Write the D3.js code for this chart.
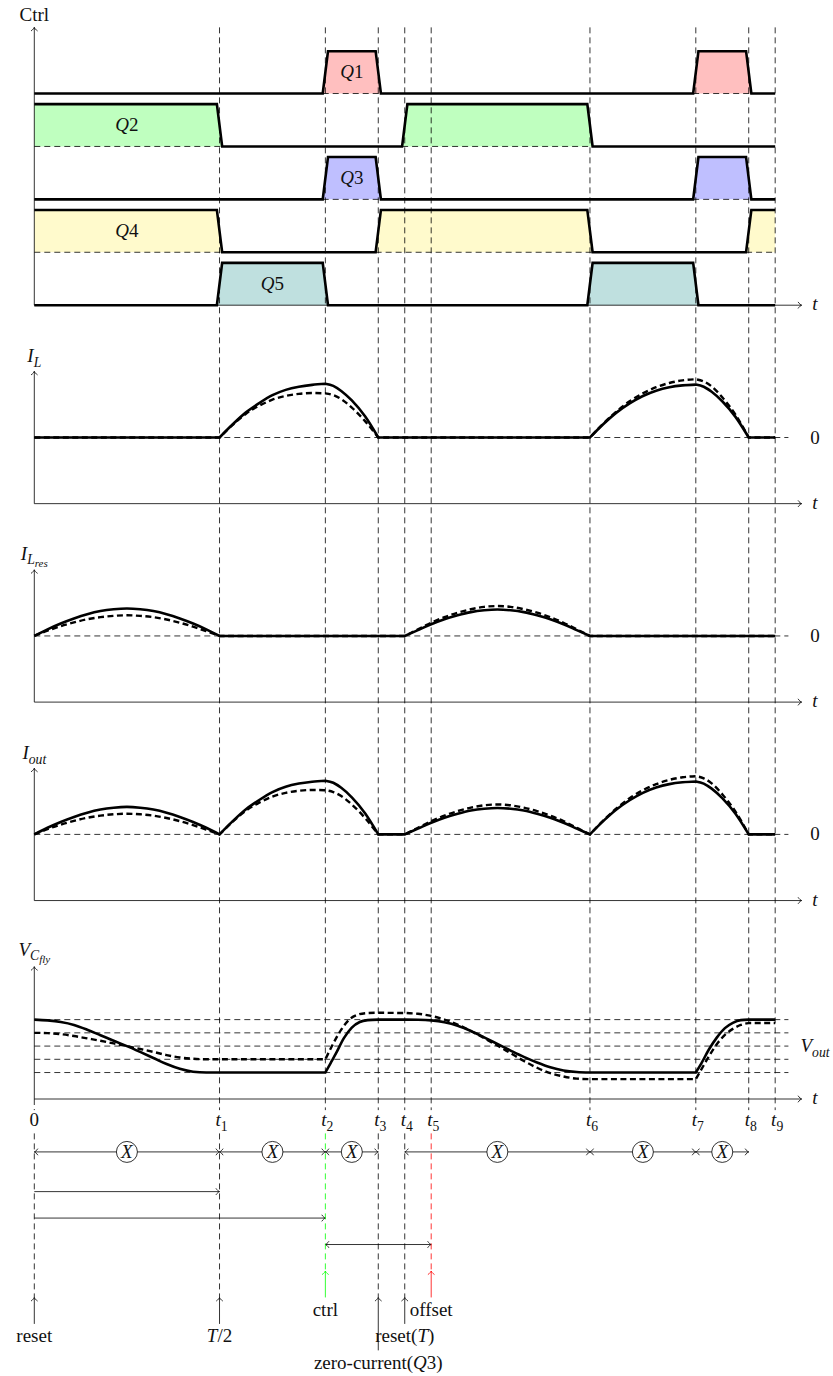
<!DOCTYPE html>
<html>
<head>
<meta charset="utf-8">
<script src="https://cdn.jsdelivr.net/npm/d3@7"></script>
<style>
  body { margin: 0; background: #fff; }
</style>
</head>
<body>
<svg id="chart" width="833" height="1376"></svg>
<script>
// ---------- data ----------
// event instants along the time axis (drawing units)
const tickTimes = [0, 7, 11, 13, 14, 15, 21, 25, 27, 28];
const tickNames = ["0", "1", "2", "3", "4", "5", "6", "7", "8", "9"];

// switch states: [time, on(1)/off(0)]
const q1States = [[0, 0], [11, 1], [13, 0], [25, 1], [27, 0]];
const q2States = [[0, 1], [7, 0], [14, 1], [21, 0]];
const q3States = [[0, 0], [11, 1], [13, 0], [25, 1], [27, 0]];
const q4States = [[0, 1], [7, 0], [13, 1], [21, 0], [27, 1]];
const q5States = [[0, 0], [7, 1], [11, 0], [21, 1], [25, 0]];
const switchNames = ["1", "2", "3", "4", "5"];

// inductor current I_L (segments of [t, value])
const iLSolid = [
  [[0, 0], [7, 0]],
  [[7, 0], [7.5, 0.5], [8, 0.95], [8.5, 1.3], [9, 1.6], [9.5, 1.8], [10, 1.92], [10.5, 1.99], [11, 2.03]],
  [[11, 2.03], [11.3, 1.95], [11.6, 1.76], [12, 1.4], [12.5, 0.8], [13, 0]],
  [[13, 0], [21, 0]],
  [[21, 0], [21.5, 0.5], [22, 0.94], [22.5, 1.29], [23, 1.57], [23.5, 1.77], [24, 1.9], [24.5, 1.97], [25, 2.0]],
  [[25, 2.0], [25.3, 1.92], [25.6, 1.73], [26, 1.37], [26.5, 0.78], [27, 0]],
  [[27, 0], [28, 0]]
];
const iLDashed = [
  [[0, 0], [7, 0]],
  [[7, 0], [7.5, 0.48], [8, 0.9], [8.5, 1.2], [9, 1.43], [9.5, 1.57], [10, 1.65], [10.5, 1.68], [11, 1.67]],
  [[11, 1.67], [11.3, 1.6], [11.6, 1.45], [12, 1.13], [12.5, 0.62], [13, 0]],
  [[13, 0], [21, 0]],
  [[21, 0], [21.5, 0.52], [22, 0.98], [22.5, 1.37], [23, 1.67], [23.5, 1.9], [24, 2.06], [24.5, 2.16], [25, 2.2]],
  [[25, 2.2], [25.3, 2.12], [25.6, 1.93], [26, 1.52], [26.5, 0.86], [27, 0]],
  [[27, 0], [28, 0]]
];

// resonant inductor current I_Lres
const iLresSolid = [
  [[0, 0], [0.5, 0.25], [1, 0.47], [1.5, 0.66], [2, 0.82], [2.5, 0.94], [3, 1.01], [3.5, 1.04], [4, 1.01], [4.5, 0.94], [5, 0.82], [5.5, 0.66], [6, 0.47], [6.5, 0.25], [7, 0]],
  [[7, 0], [14, 0]],
  [[14, 0], [14.5, 0.22], [15, 0.44], [15.5, 0.63], [16, 0.78], [16.5, 0.9], [17, 0.97], [17.5, 1.0], [18, 0.97], [18.5, 0.9], [19, 0.78], [19.5, 0.63], [20, 0.44], [20.5, 0.22], [21, 0]],
  [[21, 0], [28, 0]]
];
const iLresDashed = [
  [[0, 0], [0.5, 0.2], [1, 0.37], [1.5, 0.51], [2, 0.63], [2.5, 0.71], [3, 0.76], [3.5, 0.78], [4, 0.76], [4.5, 0.71], [5, 0.62], [5.5, 0.5], [6, 0.35], [6.5, 0.18], [7, 0]],
  [[7, 0], [14, 0]],
  [[14, 0], [14.5, 0.25], [15, 0.5], [15.5, 0.71], [16, 0.88], [16.5, 1.01], [17, 1.1], [17.5, 1.13], [18, 1.1], [18.5, 1.01], [19, 0.88], [19.5, 0.71], [20, 0.5], [20.5, 0.25], [21, 0]],
  [[21, 0], [28, 0]]
];

// output current I_out: the I_Lres and I_L pulses one after another
const iOutSolid = [iLresSolid[0], iLSolid[1], iLSolid[2], [[13, 0], [14, 0]], iLresSolid[2], iLSolid[4], iLSolid[5], iLSolid[6]];
const iOutDashed = [iLresDashed[0], iLDashed[1], iLDashed[2], [[13, 0], [14, 0]], iLresDashed[2], iLDashed[4], iLDashed[5], iLDashed[6]];

// flying capacitor voltage V_Cfly
const vSolid = [
  [[0, 3], [0.5, 2.97], [1, 2.91], [1.5, 2.8], [2, 2.62], [2.5, 2.41], [3, 2.2], [3.5, 2.0], [4, 1.78], [4.5, 1.55], [5, 1.32], [5.5, 1.14], [6, 1.03], [6.5, 1.0], [7, 1.0]],
  [[7, 1], [11, 1]],
  [[11, 1], [11.2, 1.36], [11.4, 1.72], [11.7, 2.3], [12, 2.7], [12.3, 2.91], [12.6, 2.98], [13, 3.0]],
  [[13, 3], [14, 3]],
  [[14, 3], [14.5, 2.995], [15, 2.97], [15.5, 2.9], [16, 2.77], [16.5, 2.57], [17, 2.33], [17.5, 2.08], [18, 1.83], [18.5, 1.59], [19, 1.38], [19.5, 1.2], [20, 1.08], [20.5, 1.02], [21, 1.0]],
  [[21, 1], [25, 1]],
  [[25, 1], [25.2, 1.33], [25.5, 1.88], [25.8, 2.33], [26.1, 2.68], [26.4, 2.88], [26.7, 2.98], [27, 3.0]],
  [[27, 3], [28, 3]]
];
const vDashed = [
  [[0, 2.5], [0.5, 2.49], [1, 2.45], [1.5, 2.38], [2, 2.29], [2.5, 2.2], [3, 2.1], [3.5, 2.0], [4, 1.89], [4.5, 1.78], [5, 1.66], [5.5, 1.57], [6, 1.52], [6.5, 1.5], [7, 1.5]],
  [[7, 1.5], [11, 1.5]],
  [[11, 1.5], [11.3, 2.1], [11.6, 2.62], [11.9, 3.0], [12.2, 3.18], [12.6, 3.25], [13, 3.26]],
  [[13, 3.26], [14, 3.25]],
  [[14, 3.25], [14.5, 3.22], [15, 3.14], [15.5, 3.0], [16, 2.81], [16.5, 2.57], [17, 2.3], [17.5, 2.02], [18, 1.73], [18.5, 1.44], [19, 1.18], [19.5, 0.98], [20, 0.85], [20.5, 0.77], [21, 0.75]],
  [[21, 0.75], [25, 0.75]],
  [[25, 0.75], [25.2, 1.1], [25.5, 1.62], [25.8, 2.08], [26.1, 2.42], [26.4, 2.65], [26.7, 2.8], [27, 2.87]],
  [[27, 2.87], [28, 2.87]]
];
const vLevels = [1, 1.5, 2, 2.5, 3];

// interval markers below the time axis
const xIntervals = [[0, 7], [7, 11], [11, 13], [14, 21], [21, 25], [25, 27]];

// ---------- layout ----------
const U = 26.46;          // pixels per drawing unit
const X0 = 34.3, Y0 = 1099;
const T_END = 28, T_AXIS = 29, RAMP = 0.1;
const FONT = "'Liberation Serif'";

const svg = d3.select("#chart");
const x = d3.scaleLinear().domain([0, T_AXIS]).range([X0, X0 + T_AXIS * U]);
const yG = d3.scaleLinear().domain([0, 1]).range([Y0, Y0 - U]);
const panel = base => d3.scaleLinear().domain([0, 1]).range([yG(base), yG(base + 1)]);

const gFill = svg.append("g");
const gGuide = svg.append("g");
const gAxis = svg.append("g");
const gLine = svg.append("g");
const gText = svg.append("g");

// small open arrow tip
function tip(g, px, py, angleDeg, color) {
  g.append("path")
    .attr("d", "M-3.6,-3.3 C-2.3,-1.3 -0.9,-0.35 0,0 C-0.9,0.35 -2.3,1.3 -3.6,3.3")
    .attr("transform", `translate(${px},${py}) rotate(${angleDeg})`)
    .attr("fill", "none").attr("stroke", color || "#000").attr("stroke-width", 0.8);
}
function arrowLine(g, x1, y1, x2, y2, opts = {}) {
  const color = opts.color || "#000";
  g.append("line").attr("x1", x1).attr("y1", y1).attr("x2", x2).attr("y2", y2)
    .attr("stroke", color).attr("stroke-width", opts.width || 0.8);
  const ang = Math.atan2(y2 - y1, x2 - x1) * 180 / Math.PI;
  if (opts.end !== false) tip(g, x2, y2, ang, color);
  if (opts.start) tip(g, x1, y1, ang + 180, color);
}

// math-style label: parts = [[text, italic, level]], level 0 base, 1 sub, 2 subsub
function mathText(g, px, py, parts, size, anchor) {
  const t = g.append("text").attr("x", px).attr("y", py).attr("text-anchor", anchor || "middle")
    .attr("font-family", FONT).attr("font-size", size).attr("fill", "#111");
  let lvl = 0;
  const shift = [0, 4.5, 7.5], scale = [1, 0.72, 0.58];
  parts.forEach(([s, it, level]) => {
    level = level || 0;
    t.append("tspan").text(s)
      .attr("font-family", FONT)
      .attr("font-style", it ? "italic" : "normal")
      .attr("font-size", size * scale[level])
      .attr("dy", shift[level] - shift[lvl]);
    lvl = level;
  });
  return t;
}

const FS = 19;

// ---------- axes ----------
function timeAxis(base, topUnits) {
  const ay = yG(base);
  arrowLine(gAxis, x(0), ay, x(0), yG(base + topUnits));
  arrowLine(gAxis, x(0), ay, x(T_AXIS), ay);
  mathText(gText, 815, ay + 5, [["t", true]], FS);
}
timeAxis(30, 10.5);
timeAxis(22.5, 5);
timeAxis(15, 5);
timeAxis(7.5, 5);
timeAxis(0, 5);

mathText(gText, x(0), yG(40.5) - 6, [["Ctrl", false]], FS);
mathText(gText, x(0), yG(27.5) - 9, [["I", true], ["L", true, 1]], FS);
mathText(gText, x(0), yG(20) - 10, [["I", true], ["L", true, 1], ["res", true, 2]], FS);
mathText(gText, x(0), yG(12.5) - 9, [["I", true], ["out", true, 1]], FS);
mathText(gText, x(0), yG(5) - 11, [["V", true], ["C", true, 1], ["fly", true, 2]], FS);

// ---------- vertical guides ----------
const dashGuide = "6,4";
tickTimes.forEach((t, i) => {
  const top = i === 0 ? yG(0) : yG(40.5);
  gGuide.append("line").attr("x1", x(t)).attr("x2", x(t)).attr("y1", top).attr("y2", yG(-0.42))
    .attr("stroke", "#000").attr("stroke-width", 0.8).attr("stroke-dasharray", dashGuide);
  const lbl = i === 0 ? [["0", false]] : [["t", true], [tickNames[i], false, 1]];
  mathText(gText, x(t) + (i === 0 ? 0 : 2), yG(-0.87) + 4, lbl, FS);
});

// ---------- control signals ----------
const fills = ["#ffbfbf", "#bfffbf", "#bfbfff", "#fffacc", "#bfe0df"];
const rows = [q1States, q2States, q3States, q4States, q5States];
const ctrl = panel(30);
rows.forEach((states, r) => {
  const low = 8 - 2 * r, high = low + 1.6;
  const lv = s => s ? high : low;
  const pts = [[0, lv(states[0][1])]];
  for (let i = 1; i < states.length; i++) {
    pts.push([states[i][0] - RAMP, lv(states[i - 1][1])], [states[i][0] + RAMP, lv(states[i][1])]);
  }
  pts.push([T_END, lv(states[states.length - 1][1])]);

  let labelled = false;
  states.forEach(([t0, s], i) => {
    if (!s) return;
    const t1 = i + 1 < states.length ? states[i + 1][0] : T_END;
    const poly = [];
    if (t0 === 0) poly.push([0, low], [0, high]); else poly.push([t0 - RAMP, low], [t0 + RAMP, high]);
    if (t1 === T_END) poly.push([t1, high], [t1, low]); else poly.push([t1 - RAMP, high], [t1 + RAMP, low]);
    gFill.append("path")
      .attr("d", d3.line().x(d => x(d[0])).y(d => ctrl(d[1]))(poly) + "Z")
      .attr("fill", fills[r]);
    if (r !== 4) {
      gGuide.append("line")
        .attr("x1", x(t0 === 0 ? 0 : t0 - RAMP)).attr("x2", x(t1 === T_END ? t1 : t1 + RAMP))
        .attr("y1", ctrl(low)).attr("y2", ctrl(low))
        .attr("stroke", "#000").attr("stroke-width", 0.8).attr("stroke-dasharray", dashGuide);
    }
    if (!labelled) {
      labelled = true;
      mathText(gText, x((t0 + t1) / 2), ctrl(low + 0.8) + 6, [["Q", true], [switchNames[r], false]], FS);
    }
  });
  gLine.append("path")
    .attr("d", d3.line().x(d => x(d[0])).y(d => ctrl(d[1]))(pts))
    .attr("fill", "none").attr("stroke", "#000").attr("stroke-width", 2.6)
    .attr("stroke-linejoin", "miter");
});

// ---------- waveform panels ----------
function joined(segs, ys) {
  const gen = d3.line().x(d => x(d[0])).y(d => ys(d[1])).curve(d3.curveMonotoneX);
  return segs.map((s, i) => {
    const p = gen(s);
    return i === 0 ? p : "L" + p.slice(1);
  }).join("");
}
function hGuide(ys, v) {
  gGuide.append("line").attr("x1", x(0)).attr("x2", x(28.5)).attr("y1", ys(v)).attr("y2", ys(v))
    .attr("stroke", "#000").attr("stroke-width", 0.8).attr("stroke-dasharray", dashGuide);
}
function wave(base, solid, dashed) {
  const ys = panel(base);
  hGuide(ys, 0);
  mathText(gText, 815, ys(0) + 6, [["0", false]], FS);
  gLine.append("path").attr("d", joined(solid, ys))
    .attr("fill", "none").attr("stroke", "#000").attr("stroke-width", 2.6);
  gLine.append("path").attr("d", joined(dashed, ys))
    .attr("fill", "none").attr("stroke", "#000").attr("stroke-width", 2.4)
    .attr("stroke-dasharray", "6,3.5");
}
wave(25, iLSolid, iLDashed);
wave(17.5, iLresSolid, iLresDashed);
wave(10, iOutSolid, iOutDashed);

const yv = panel(0);
vLevels.forEach(v => hGuide(yv, v));
mathText(gText, 815, yv(2) + 6, [["V", true], ["out", true, 1]], FS);
gLine.append("path").attr("d", joined(vSolid, yv))
  .attr("fill", "none").attr("stroke", "#000").attr("stroke-width", 2.6);
gLine.append("path").attr("d", joined(vDashed, yv))
  .attr("fill", "none").attr("stroke", "#000").attr("stroke-width", 2.4)
  .attr("stroke-dasharray", "6,3.5");

// ---------- timing annotations ----------
const gB = svg.append("g");
xIntervals.forEach(([a, b]) => {
  const yy = yG(-2);
  arrowLine(gB, x(a), yy, x(b), yy, { start: true });
  const cx = (x(a) + x(b)) / 2;
  gB.append("circle").attr("cx", cx).attr("cy", yy).attr("r", 10.5)
    .attr("fill", "#fff").attr("stroke", "#000").attr("stroke-width", 0.8);
  mathText(gB, cx, yy + 6, [["X", true]], FS);
});
arrowLine(gB, x(0), yG(-3.5), x(7), yG(-3.5));
arrowLine(gB, x(0), yG(-4.5), x(11), yG(-4.5));
arrowLine(gB, x(11), yG(-5.5), x(15), yG(-5.5), { start: true });

// lower guides and event markers
const lowerGuides = [[0, "#000", -7.5], [7, "#000", -7.5], [11, "#00ff00", -6.5], [13, "#000", -7.5], [14, "#000", -7.5], [15, "#ff0000", -6.5]];
lowerGuides.forEach(([t, c, end]) => {
  gB.append("line").attr("x1", x(t)).attr("x2", x(t)).attr("y1", yG(-1.3)).attr("y2", yG(end))
    .attr("stroke", c).attr("stroke-width", 0.8).attr("stroke-dasharray", dashGuide);
});
arrowLine(gB, x(11), yG(-7.5), x(11), yG(-6.5), { color: "#00ff00" });
arrowLine(gB, x(15), yG(-7.5), x(15), yG(-6.5), { color: "#ff0000" });
arrowLine(gB, x(0), yG(-8.5), x(0), yG(-7.5));
arrowLine(gB, x(7), yG(-8.5), x(7), yG(-7.5));
arrowLine(gB, x(14), yG(-8.5), x(14), yG(-7.5));
arrowLine(gB, x(13), yG(-9.5), x(13), yG(-7.5));

mathText(gB, x(11), yG(-8) + 5.5, [["ctrl", false]], FS);
mathText(gB, x(15), yG(-8) + 5.5, [["offset", false]], FS);
mathText(gB, x(0), yG(-9) + 5, [["reset", false]], FS);
mathText(gB, x(7), yG(-9) + 5, [["T", true], ["/2", false]], FS);
mathText(gB, x(14), yG(-9) + 5, [["reset(", false], ["T", true], [")", false]], FS);
mathText(gB, x(13), yG(-10) + 5, [["zero-current(", false], ["Q", true], ["3)", false]], FS);
</script>
</body>
</html>
